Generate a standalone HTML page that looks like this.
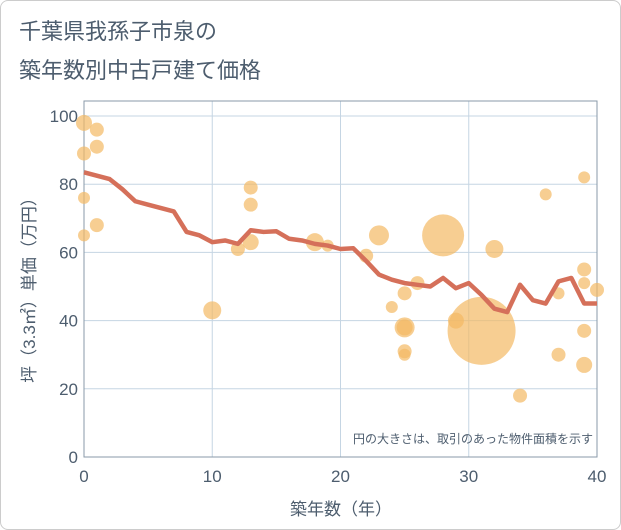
<!DOCTYPE html><html><head><meta charset="utf-8"><style>
body{margin:0;background:#fff;font-family:"Liberation Sans","Noto Sans CJK JP",sans-serif}
#c{position:relative;width:619px;height:528px;border:1px solid #ccc;border-radius:8px;overflow:hidden}
</style></head><body>
<div id="c">
<svg id="s" width="621" height="530"></svg>
</div>
<script>
const lineYears=[0,1,2,3,4,5,6,7,8,9,10,11,12,13,14,15,16,17,18,19,20,21,22,23,24,25,26,27,28,29,30,31,32,33,34,35,36,37,38,39,40];
const lineValues=[83.5,82.5,81.5,78.5,75,74,73,72,66,65,63,63.5,62.5,66.5,66,66.2,64,63.5,62.5,62,61,61.2,57.5,53.5,52,51,50.5,50,52.5,49.5,51,47.5,43.5,42.5,50.5,46,45,51.5,52.5,45,45];
const bubbleX=[0,0,0,0,1,1,1,10,12,13,13,13,18,19,22,23,24,25,25,25,25,25,26,28,29,31,32,34,36,37,37,39,39,39,39,39,40];
const bubbleY=[98,89,76,65,96,91,68,43,61,79,74,63,63,62,59,65,44,38,38,31,30,48,51,65,40,37,61,18,77,48,30,82,55,51,37,27,49];
const bubbleSize=[8,7,6,6,7,7,7,9,7,7,7,8,9,6,7,10,6,10,8,7,6,7,7,21,8,34,9,7,6,6,7,6,7,6,7,8,7];
const xTicks=[0,10,20,30,40], yTicks=[0,20,40,60,80,100];
const NS="http://www.w3.org/2000/svg", s=document.getElementById('s');
const L=83,R=596,T=115,B=456;
const xs=v=>L+(R-L)*v/40, ys=v=>B-(B-T)*v/100;
const TXT='#4d5d6e';
function el(t,a,txt){const e=document.createElementNS(NS,t);for(const k in a)e.setAttribute(k,a[k]);if(txt!=null)e.textContent=txt;s.appendChild(e);return e;}
let e;
e=el('text',{x:18,y:38,'font-size':22,fill:TXT},'千葉県我孫子市泉の');

e=el('text',{x:18,y:77,'font-size':22,fill:TXT},'築年数別中古戸建て価格');

xTicks.forEach(v=>{e=el('line',{x1:xs(v),x2:xs(v),y1:T-15,y2:B,stroke:'#c5d5e3'});
 e=el('text',{x:xs(v),y:B+25,'font-size':17,fill:TXT,'text-anchor':'middle'},v);});
yTicks.forEach(v=>{e=el('line',{x1:L,x2:R,y1:ys(v),y2:ys(v),stroke:'#c5d5e3'});
 e=el('text',{x:L-6,y:ys(v)+6,'font-size':17,fill:TXT,'text-anchor':'end'},v);});
e=el('rect',{x:L,y:T-15,width:R-L,height:B-T+15,fill:'none',stroke:'#8a9aa8'});
bubbleX.forEach((x,i)=>{e=el('circle',{cx:xs(x),cy:ys(bubbleY[i]),r:bubbleSize[i],fill:'rgba(243,185,100,0.7)'});});
e=el('polyline',{points:lineYears.map((x,i)=>xs(x)+','+ys(lineValues[i])).join(' '),fill:'none',stroke:'#d5705a','stroke-width':4.5,'stroke-linejoin':'round'});

e=el('text',{x:592,y:442,'font-size':12,fill:TXT,'text-anchor':'end'},'円の大きさは、取引のあった物件面積を示す');

e=el('text',{x:340,y:514,'font-size':17,fill:TXT,'text-anchor':'middle'},'築年数（年）');

e=el('text',{x:0,y:0,'font-size':17,fill:TXT,'text-anchor':'middle',transform:'translate(34,285) rotate(-90)'},'坪（3.3㎡）単価（万円）');

</script></body></html>
